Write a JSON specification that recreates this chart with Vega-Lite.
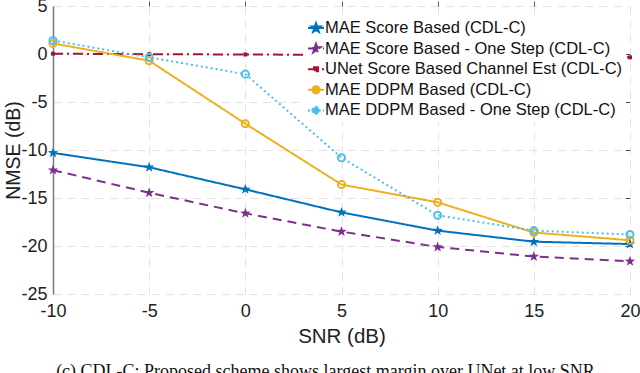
{
  "$schema": "https://vega.github.io/schema/vega-lite/v6.json",
  "width": 577,
  "height": 288,
  "autosize": "none",
  "padding": {"left": 53, "top": 6, "right": 10, "bottom": 79},
  "background": "white",
  "config": {
    "view": {"stroke": null},
    "font": "Liberation Sans",
    "axis": {
      "labelFont": "Liberation Sans",
      "labelFontSize": 18,
      "labelColor": "#222222",
      "titleFont": "Liberation Sans",
      "titleFontSize": 20.5,
      "titleFontWeight": "normal",
      "titleColor": "#222222",
      "gridColor": "#e2e2e2",
      "gridDash": [8, 6],
      "gridWidth": 1
    }
  },
  "title": {
    "text": "(c) CDL-C: Proposed scheme shows largest margin over UNet at low SNR",
    "orient": "bottom",
    "font": "Liberation Serif",
    "fontSize": 18,
    "fontWeight": "normal",
    "color": "#111111",
    "offset": 16,
    "dx": -16
  },
  "data": {
    "values": [
      {"snr": -10, "nmse": -10.3, "series": "MAE Score Based (CDL-C)"},
      {"snr": -5, "nmse": -11.8, "series": "MAE Score Based (CDL-C)"},
      {"snr": 0, "nmse": -14.1, "series": "MAE Score Based (CDL-C)"},
      {"snr": 5, "nmse": -16.5, "series": "MAE Score Based (CDL-C)"},
      {"snr": 10, "nmse": -18.4, "series": "MAE Score Based (CDL-C)"},
      {"snr": 15, "nmse": -19.55, "series": "MAE Score Based (CDL-C)"},
      {"snr": 20, "nmse": -19.8, "series": "MAE Score Based (CDL-C)"},
      {"snr": -10, "nmse": -12.1, "series": "MAE Score Based - One Step (CDL-C)"},
      {"snr": -5, "nmse": -14.45, "series": "MAE Score Based - One Step (CDL-C)"},
      {"snr": 0, "nmse": -16.6, "series": "MAE Score Based - One Step (CDL-C)"},
      {"snr": 5, "nmse": -18.5, "series": "MAE Score Based - One Step (CDL-C)"},
      {"snr": 10, "nmse": -20.1, "series": "MAE Score Based - One Step (CDL-C)"},
      {"snr": 15, "nmse": -21.1, "series": "MAE Score Based - One Step (CDL-C)"},
      {"snr": 20, "nmse": -21.6, "series": "MAE Score Based - One Step (CDL-C)"},
      {"snr": -10, "nmse": 0.03, "series": "UNet Score Based Channel Est (CDL-C)"},
      {"snr": -5, "nmse": -0.02, "series": "UNet Score Based Channel Est (CDL-C)"},
      {"snr": 0, "nmse": -0.05, "series": "UNet Score Based Channel Est (CDL-C)"},
      {"snr": 5, "nmse": -0.1, "series": "UNet Score Based Channel Est (CDL-C)"},
      {"snr": 10, "nmse": -0.15, "series": "UNet Score Based Channel Est (CDL-C)"},
      {"snr": 15, "nmse": -0.22, "series": "UNet Score Based Channel Est (CDL-C)"},
      {"snr": 20, "nmse": -0.35, "series": "UNet Score Based Channel Est (CDL-C)"},
      {"snr": -10, "nmse": 1.1, "series": "MAE DDPM Based (CDL-C)"},
      {"snr": -5, "nmse": -0.7, "series": "MAE DDPM Based (CDL-C)"},
      {"snr": 0, "nmse": -7.26, "series": "MAE DDPM Based (CDL-C)"},
      {"snr": 5, "nmse": -13.6, "series": "MAE DDPM Based (CDL-C)"},
      {"snr": 10, "nmse": -15.45, "series": "MAE DDPM Based (CDL-C)"},
      {"snr": 15, "nmse": -18.6, "series": "MAE DDPM Based (CDL-C)"},
      {"snr": 20, "nmse": -19.4, "series": "MAE DDPM Based (CDL-C)"},
      {"snr": -10, "nmse": 1.4, "series": "MAE DDPM Based - One Step (CDL-C)"},
      {"snr": -5, "nmse": -0.35, "series": "MAE DDPM Based - One Step (CDL-C)"},
      {"snr": 0, "nmse": -2.1, "series": "MAE DDPM Based - One Step (CDL-C)"},
      {"snr": 5, "nmse": -10.8, "series": "MAE DDPM Based - One Step (CDL-C)"},
      {"snr": 10, "nmse": -16.8, "series": "MAE DDPM Based - One Step (CDL-C)"},
      {"snr": 15, "nmse": -18.4, "series": "MAE DDPM Based - One Step (CDL-C)"},
      {"snr": 20, "nmse": -18.8, "series": "MAE DDPM Based - One Step (CDL-C)"}
    ]
  },
  "layer": [
    {
      "mark": {"type": "line", "strokeWidth": 2},
      "encoding": {
        "x": {
          "field": "snr", "type": "quantitative",
          "scale": {"domain": [-10, 20], "nice": false},
          "axis": {"title": "SNR (dB)", "values": [-10, -5, 0, 5, 10, 15, 20], "labelExpr": "'' + datum.value", "domain": false, "ticks": false, "labelPadding": 8, "titlePadding": 6, "labelFlush": false}
        },
        "y": {
          "field": "nmse", "type": "quantitative",
          "scale": {"domain": [-25, 5], "nice": false},
          "axis": {"title": "NMSE (dB)", "titleFontSize": 19.5, "values": [-25, -20, -15, -10, -5, 0, 5], "labelExpr": "'' + datum.value", "domain": true, "domainColor": "#7a7a7a", "domainWidth": 1.5, "ticks": false, "labelPadding": 6, "titlePadding": -3, "labelFlush": false}
        },
        "color": {
          "field": "series", "type": "nominal",
          "scale": {
            "domain": ["MAE Score Based (CDL-C)", "MAE Score Based - One Step (CDL-C)", "UNet Score Based Channel Est (CDL-C)", "MAE DDPM Based (CDL-C)", "MAE DDPM Based - One Step (CDL-C)"],
            "range": ["#0072BD", "#7E2F8E", "#A2142F", "#EDB120", "#4DBEEE"]
          },
          "legend": {
            "title": null,
            "orient": "none",
            "legendX": 251,
            "legendY": 10,
            "fillColor": "white",
            "padding": 3,
            "labelFont": "Liberation Sans",
            "labelFontSize": 16.5,
            "labelColor": "#111111",
            "labelLimit": 400,
            "symbolSize": 256,
            "symbolStrokeWidth": 2,
            "labelOffset": 0,
            "rowPadding": 2.6,
            "encode": {
              "symbols": {
                "update": {
                  "shape": {"signal": "(datum.value == 'MAE DDPM Based (CDL-C)' || datum.value == 'MAE DDPM Based - One Step (CDL-C)') ? 'M-1,0H1M-0.45,0A0.45,0.45 0 1,0 0.45,0A0.45,0.45 0 1,0 -0.45,0Z' : (datum.value == 'UNet Score Based Channel Est (CDL-C)' ? 'M-1,0H1M-0.25,-0.25H0.25V0.25H-0.25Z' : 'M-1,0H1M0,-0.6L0.141,-0.194L0.571,-0.185L0.228,0.074L0.353,0.485L0,0.24L-0.353,0.485L-0.228,0.074L-0.571,-0.185L-0.141,-0.194Z')"},
                  "fill": {"signal": "(datum.value == 'MAE DDPM Based (CDL-C)' || datum.value == 'MAE DDPM Based - One Step (CDL-C)') ? 'white' : scale('color', datum.value)"},
                  "strokeDash": {"value": [1, 0]}
                }
              }
            }
          }
        },
        "strokeDash": {
          "field": "series", "type": "nominal",
          "scale": {
            "domain": ["MAE Score Based (CDL-C)", "MAE Score Based - One Step (CDL-C)", "UNet Score Based Channel Est (CDL-C)", "MAE DDPM Based (CDL-C)", "MAE DDPM Based - One Step (CDL-C)"],
            "range": [[1, 0], [9, 6], [10, 4, 2, 4], [1, 0], [2, 3]]
          },
          "legend": null
        }
      }
    },
    {
      "transform": [{"filter": "datum.series == 'MAE Score Based (CDL-C)' || datum.series == 'MAE Score Based - One Step (CDL-C)'"}],
      "mark": {"type": "point", "filled": true, "opacity": 1, "size": 121, "shape": "M0,-1L0.235,-0.324L0.951,-0.309L0.380,0.124L0.588,0.809L0,0.4L-0.588,0.809L-0.380,0.124L-0.951,-0.309L-0.235,-0.324Z"},
      "encoding": {
        "x": {"field": "snr", "type": "quantitative", "axis": {"orient": "top", "labels": false, "title": null, "domain": false, "grid": false, "ticks": true, "tickSize": 5, "tickColor": "#555555", "values": [-5, 0, 5, 10, 15]}},
        "y": {"field": "nmse", "type": "quantitative", "axis": {"orient": "right", "labels": false, "title": null, "domain": false, "grid": false, "ticks": true, "tickSize": -5, "tickColor": "#555555", "values": [-20, -15, -10, -5, 0]}},
        "color": {"field": "series", "type": "nominal", "legend": null}
      }
    },
    {
      "transform": [{"filter": "datum.series == 'UNet Score Based Channel Est (CDL-C)'"}],
      "mark": {"type": "point", "filled": true, "opacity": 1, "size": 16, "shape": "square"},
      "encoding": {
        "x": {"field": "snr", "type": "quantitative", "axis": null},
        "y": {"field": "nmse", "type": "quantitative", "axis": null},
        "color": {"field": "series", "type": "nominal", "legend": null}
      }
    },
    {
      "transform": [{"filter": "datum.series == 'MAE DDPM Based (CDL-C)' || datum.series == 'MAE DDPM Based - One Step (CDL-C)'"}],
      "mark": {"type": "point", "filled": false, "fill": "white", "fillOpacity": 0, "opacity": 1, "size": 50, "shape": "circle", "strokeWidth": 2},
      "encoding": {
        "x": {"field": "snr", "type": "quantitative", "axis": null},
        "y": {"field": "nmse", "type": "quantitative", "axis": null},
        "color": {"field": "series", "type": "nominal", "legend": null}
      }
    }
  ],
  "resolve": {"axis": {"x": "independent", "y": "independent"}}
}
